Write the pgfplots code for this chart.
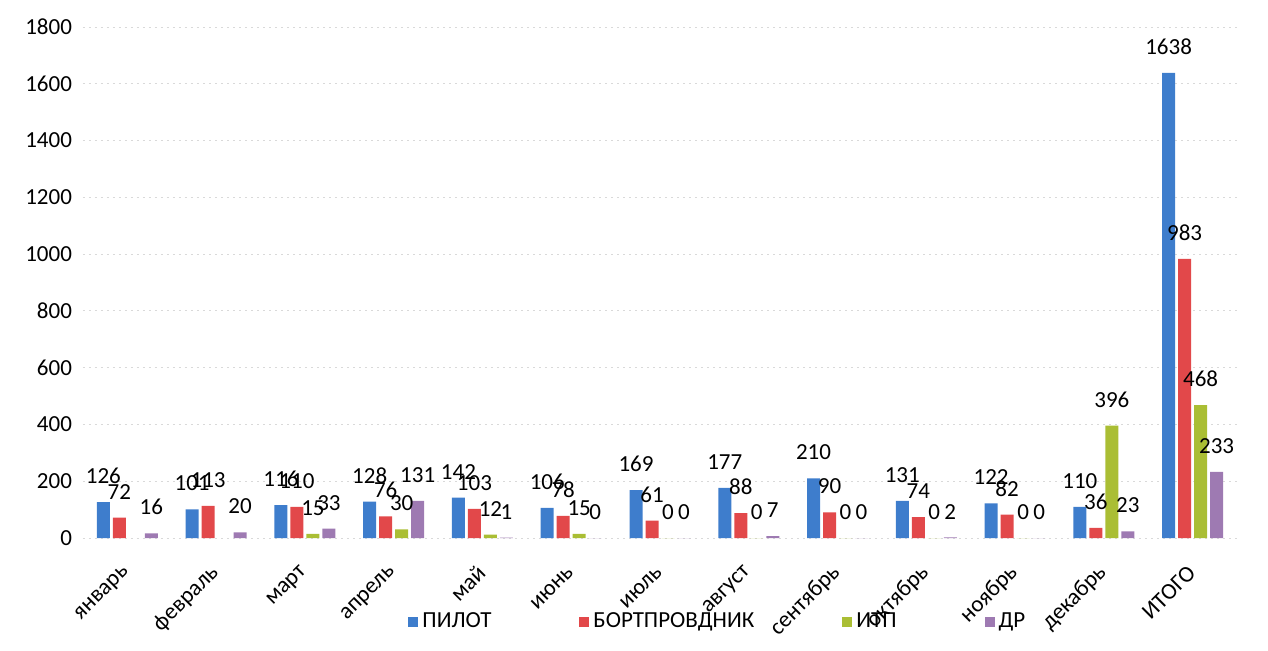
\documentclass[border=0pt]{standalone}
\usepackage{pgfplots}
\pgfplotsset{compat=1.18}
\usepackage{fontspec}
\setmainfont{Carlito}
\definecolor{cA}{RGB}{62,125,204}
\definecolor{cB}{RGB}{226,72,74}
\definecolor{cC}{RGB}{170,190,52}
\definecolor{cD}{RGB}{158,122,178}
\begin{document}
\begin{tikzpicture}
\path[use as bounding box] (-41.5pt,-56pt) rectangle (592.5pt,269pt);
\begin{axis}[
  at={(0,0)}, anchor=south west,
  width=577pt, height=255.5pt, scale only axis,
  ymin=0, ymax=1800, ytick={0,200,...,1800},
  xmin=-0.5, xmax=12.5,
  xtick={0,...,12},
  xticklabels={январь,февраль,март,апрель,май,июнь,июль,август,сентябрь,октябрь,ноябрь,декабрь,ИТОГО},
  axis line style={draw=none},
  tick style={draw=none},
  ymajorgrids,
  major grid style={draw=gray!30, dash pattern=on 1pt off 2pt},
  /pgf/number format/assume math mode=true,
  /pgf/number format/1000 sep={},
  ticklabel style={font=\fontsize{11.5}{13}\selectfont},
  yticklabel style={xshift=-2pt},
  xticklabel style={xshift=2pt, yshift=-9pt, rotate=45, anchor=east, font=\fontsize{11.5}{13}\selectfont},
  ybar=1.5pt, bar width=6.5pt,
  nodes near coords,
  every node near coord/.append style={font=\fontsize{11.5}{13}\selectfont, inner sep=1pt, text=black, yshift=8pt},
  legend style={at={(0.551,-0.164)}, anchor=center, draw=none, fill=none,
    legend columns=4, font=\fontsize{11.5}{13}\selectfont,
    /tikz/every even column/.append style={column sep=42pt}},
  legend image code/.code={\fill[#1] (0pt,-2.5pt) rectangle (5pt,2.5pt);},
  legend cell align=left,
]
\addplot[fill=cA, draw=none] coordinates {(0,126) (1,101) (2,116) (3,128) (4,142) (5,106) (6,169) (7,177) (8,210) (9,131) (10,122) (11,110) (12,1638)};
\addplot[fill=cB, draw=none] coordinates {(0,72) (1,113) (2,110) (3,76) (4,103) (5,78) (6,61) (7,88) (8,90) (9,74) (10,82) (11,36) (12,983)};
\addplot[fill=cC, draw=none] coordinates {(2,15) (3,30) (4,12) (5,15) (6,0) (7,0) (8,0) (9,0) (10,0) (11,396) (12,468)};
\addplot[fill=cD, draw=none] coordinates {(0,16) (1,20) (2,33) (3,131) (4,1) (5,0) (6,0) (7,7) (8,0) (9,2) (10,0) (11,23) (12,233)};
\legend{ПИЛОТ,БОРТПРОВДНИК,ИТП,ДР}
\end{axis}
\end{tikzpicture}
\end{document}
